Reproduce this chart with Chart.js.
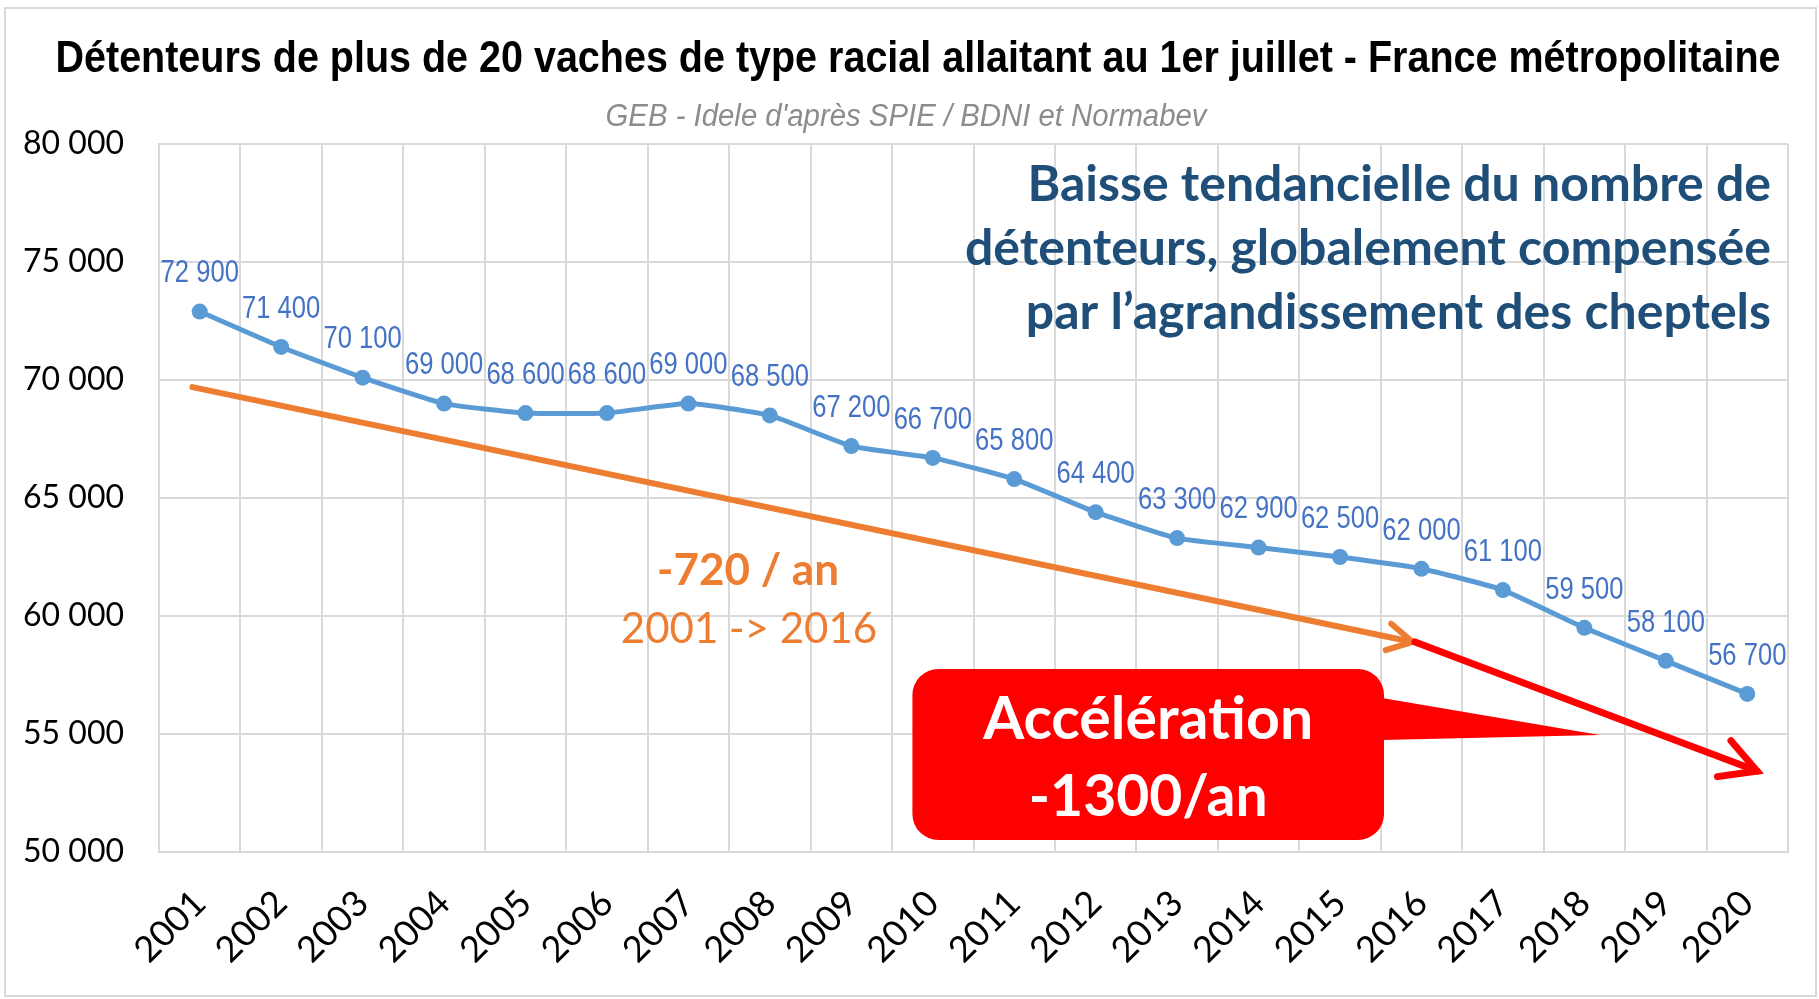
<!DOCTYPE html>
<html>
<head>
<meta charset="utf-8">
<script src="https://cdn.jsdelivr.net/npm/chart.js@4.4.0/dist/chart.umd.min.js"></script>
<style>
  html, body { margin: 0; background: #fff; }
  #wrap { width: 1819px; height: 999px; }
</style>
</head>
<body>
<div id="wrap"><canvas id="chart"></canvas></div>
<script>
const years = ["2001","2002","2003","2004","2005","2006","2007","2008","2009","2010",
               "2011","2012","2013","2014","2015","2016","2017","2018","2019","2020"];
const holders = [72900, 71400, 70100, 69000, 68600, 68600, 69000, 68500, 67200, 66700,
                 65800, 64400, 63300, 62900, 62500, 62000, 61100, 59500, 58100, 56700];
const yMin = 50000, yMax = 80000, yStep = 5000;

// trend arrows, in (year, holders) units
const orangeTrendX = [2000.91, 2015.89];
const orangeTrendY = [69700, 58900];
const redTrendX = [2015.92, 2020.12];
const redTrendY = [58900, 53430];

// callout box, in (year, holders) units
const calloutX = [2009.75, 2015.54];
const calloutY = [57754, 50510];
const calloutTip = [2018.19, 54959];
const calloutBase = [56526, 54746];

const title = "Détenteurs de plus de 20 vaches de type racial allaitant au 1er juillet - France métropolitaine";
const subtitle = "GEB - Idele d'après SPIE / BDNI et Normabev";
const note = ["Baisse tendancielle du nombre de", "détenteurs, globalement compensée", "par l’agrandissement des cheptels"];

const fmt = v => String(v).replace(/\B(?=(\d{3})+(?!\d))/g, " ");

// narrow text: Liberation Sans squeezed like Arial Narrow
function narrowText(ctx, s, x, y, sx) {
  ctx.save();
  ctx.translate(x, y);
  ctx.scale(sx, 1);
  ctx.fillText(s, 0, 0);
  ctx.restore();
}

function arrow(ctx, x1, y1, x2, y2, color, w, head) {
  const a = Math.atan2(y2 - y1, x2 - x1);
  ctx.save();
  ctx.strokeStyle = color;
  ctx.lineWidth = w;
  ctx.lineCap = "round";
  ctx.lineJoin = "miter";
  ctx.beginPath();
  ctx.moveTo(x1, y1);
  ctx.lineTo(x2, y2);
  ctx.stroke();
  ctx.beginPath();
  ctx.moveTo(x2 - head * Math.cos(a - 0.5), y2 - head * Math.sin(a - 0.5));
  ctx.lineTo(x2, y2);
  ctx.lineTo(x2 - head * Math.cos(a + 0.5), y2 - head * Math.sin(a + 0.5));
  ctx.stroke();
  ctx.restore();
}

const decor = {
  id: "decor",
  beforeDraw(chart) {
    const ctx = chart.ctx;
    ctx.save();
    ctx.strokeStyle = "#d9d9d9";
    ctx.lineWidth = 2;
    ctx.strokeRect(5, 8, 1811, 988);
    ctx.textAlign = "center";
    ctx.textBaseline = "middle";
    ctx.fillStyle = "#000";
    ctx.font = "bold 45px 'Liberation Sans', Arial";
    let w = ctx.measureText(title).width;
    narrowText(ctx, title, 918, 60, 1725 / w);
    ctx.fillStyle = "#8c8c8c";
    ctx.font = "italic 31px 'Liberation Sans', Arial";
    w = ctx.measureText(subtitle).width;
    narrowText(ctx, subtitle, 906, 117, 601 / w);
    ctx.restore();
  },
  afterDatasetsDraw(chart) {
    const { ctx, scales: { x, y } } = chart;
    const px = yr => x.getPixelForValue(yr - Number(years[0]));
    const py = v => y.getPixelForValue(v);

    // data labels
    ctx.save();
    ctx.fillStyle = "#4472C4";
    ctx.textAlign = "center";
    ctx.textBaseline = "middle";
    ctx.font = "32px 'Liberation Sans', Arial";
    chart.getDatasetMeta(0).data.forEach((pt, i) => {
      narrowText(ctx, fmt(holders[i]), pt.x, pt.y - 38, 0.8);
    });
    ctx.restore();

    // trend arrows
    arrow(ctx, px(orangeTrendX[0]), py(orangeTrendY[0]), px(orangeTrendX[1]), py(orangeTrendY[1]), "#ED7D31", 6, 28);
    arrow(ctx, px(redTrendX[0]), py(redTrendY[0]), px(redTrendX[1]), py(redTrendY[1]), "#FF0000", 7, 40);

    // callout
    const l = px(calloutX[0]), r = px(calloutX[1]), t = py(calloutY[0]), b = py(calloutY[1]);
    ctx.save();
    ctx.fillStyle = "#FF0000";
    ctx.beginPath();
    ctx.roundRect(l, t, r - l, b - t, 26);
    ctx.fill();
    ctx.beginPath();
    ctx.moveTo(r - 2, py(calloutBase[0]));
    ctx.lineTo(px(calloutTip[0]), py(calloutTip[1]));
    ctx.lineTo(r - 2, py(calloutBase[1]));
    ctx.closePath();
    ctx.fill();
    ctx.fillStyle = "#fff";
    ctx.textAlign = "center";
    ctx.textBaseline = "alphabetic";
    ctx.font = "bold 59px Lato";
    ctx.fillText("Accélération", (l + r) / 2, t + 70);
    ctx.font = "bold 57px Lato";
    ctx.fillText("-1300/an", (l + r) / 2, t + 147);
    ctx.restore();

    // texts
    ctx.save();
    ctx.textBaseline = "alphabetic";
    ctx.fillStyle = "#ED7D31";
    ctx.textAlign = "center";
    ctx.font = "bold 44px Lato";
    ctx.fillText("-720 / an", 748, 585);
    ctx.font = "42px Lato";
    ctx.fillText("2001 -> 2016", 749, 643);
    ctx.fillStyle = "#1F4E79";
    ctx.textAlign = "right";
    ctx.font = "bold 50px Lato";
    note.forEach((s, i) => ctx.fillText(s, 1771, 201 + i * 64));
    ctx.restore();
  }
};

new Chart(document.getElementById("chart"), {
  type: "line",
  data: {
    labels: years,
    datasets: [{
      data: holders,
      borderColor: "#5B9BD5",
      backgroundColor: "#5B9BD5",
      borderWidth: 5,
      pointRadius: 8,
      pointBackgroundColor: "#5B9BD5",
      pointBorderWidth: 0,
      tension: 0.15
    }]
  },
  options: {
    responsive: true,
    maintainAspectRatio: false,
    animation: false,
    layout: { padding: { top: 144, left: 0, right: 31, bottom: 0 } },
    plugins: { legend: { display: false }, tooltip: { enabled: false } },
    scales: {
      x: {
        offset: true,
        grid: { offset: true, color: "#d9d9d9", lineWidth: 2, drawTicks: false },
        border: { color: "#d9d9d9", width: 2 },
        ticks: {
          color: "#000", font: { family: "Lato", size: 36 },
          minRotation: 45, maxRotation: 45, padding: 30
        },
        afterFit(s) { s.height = 147; }
      },
      y: {
        min: yMin, max: yMax,
        grid: { color: "#d9d9d9", lineWidth: 2, drawTicks: false },
        border: { color: "#d9d9d9", width: 2 },
        ticks: {
          stepSize: yStep, color: "#000", font: { family: "Lato", size: 32 },
          padding: 35, callback: v => fmt(v)
        },
        afterFit(s) { s.width = 159; }
      }
    }
  },
  plugins: [decor]
});
</script>
</body>
</html>
